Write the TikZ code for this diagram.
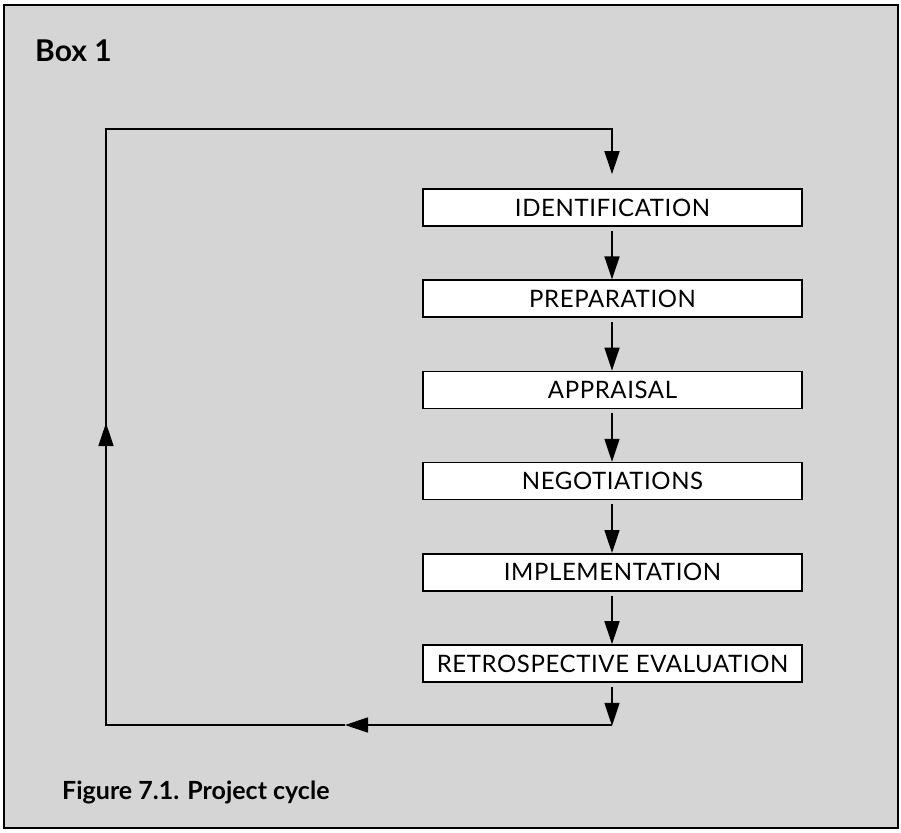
\documentclass[tikz,border=0pt]{standalone}
\usepackage{fontspec}
\setmainfont{Lato}
\newfontfamily\labelfont[LetterSpace=2.5]{Lato}
\usetikzlibrary{arrows.meta}
\definecolor{panelgray}{HTML}{D5D5D5}
\begin{document}
\begin{tikzpicture}[x=1pt,y=-1pt,
  stagebox/.style={draw=black,line width=1.6pt,fill=white,minimum width=379pt,minimum height=37pt,inner sep=0pt,font=\labelfont\fontsize{24}{27}\selectfont},
  conn/.style={line width=1.6pt},
  arr/.style={conn,-{Triangle[length=23pt,width=15pt]}}]
\useasboundingbox (0,0) rectangle (901,832);
\fill[white] (0,0) rectangle (901,832);
\draw[fill=panelgray,line width=2pt] (4,5) rectangle (898,828);
\node[anchor=base west,font=\fontsize{30}{34}\bfseries\selectfont,inner sep=0pt] (title) at (35,62) {Box 1};
\node[anchor=base west,font=\fontsize{25}{28}\bfseries\selectfont,inner sep=0pt] (caption) at (62,799) {Figure 7.1. Project cycle};
\node[stagebox] (s1) at (612.5,207.5) {IDENTIFICATION};
\node[stagebox] (s2) at (612.5,298.7) {PREPARATION};
\node[stagebox] (s3) at (612.5,389.9) {APPRAISAL};
\node[stagebox] (s4) at (612.5,481.1) {NEGOTIATIONS};
\node[stagebox] (s5) at (612.5,572.3) {IMPLEMENTATION};
\node[stagebox] (s6) at (612.5,663.5) {RETROSPECTIVE EVALUATION};
\foreach \a/\b in {s1/s2,s2/s3,s3/s4,s4/s5,s5/s6}
  \draw[arr,shorten <=4pt] ([xshift=-0.5pt]\a.south) -- ([xshift=-0.5pt]\b.north);
\coordinate (br) at (612,725);
\coordinate (bl) at (106,725);
\coordinate (tl) at (106,129);
\coordinate (tr) at (612,129);
\coordinate (bmid) at (345,725);
\coordinate (lmid) at (106,423);
\draw[arr,shorten <=4pt,shorten >=-0.8pt] ([xshift=-0.5pt]s6.south) -- (br);
\draw[arr] (br) -- (bmid);
\draw[conn] (bmid) -- (bl) -- (lmid);
\draw[arr] (bl) -- (lmid);
\draw[arr,shorten >=14pt] (lmid) -- (tl) -- (tr) -- ([xshift=-0.5pt]s1.north);
\end{tikzpicture}
\end{document}
